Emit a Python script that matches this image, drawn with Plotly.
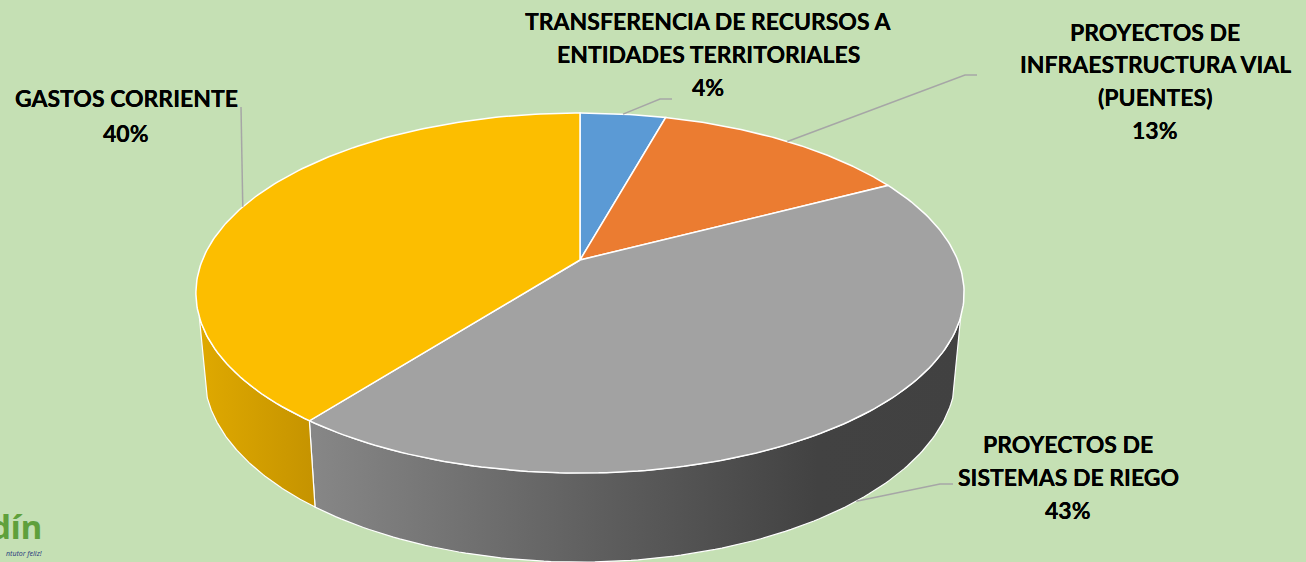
import numpy as np
import plotly.graph_objects as go

# ---- data ----
categories = ["TRANSFERENCIA DE RECURSOS A ENTIDADES TERRITORIALES",
              "PROYECTOS DE INFRAESTRUCTURA VIAL (PUENTES)",
              "PROYECTOS DE SISTEMAS DE RIEGO",
              "GASTOS CORRIENTE"]
values = [4.3, 13.0, 43.2, 39.5]
percent_labels = ["4%", "13%", "43%", "40%"]
label_lines = [["TRANSFERENCIA DE RECURSOS A", "ENTIDADES TERRITORIALES", "4%"],
               ["PROYECTOS DE", "INFRAESTRUCTURA VIAL", "(PUENTES)", "13%"],
               ["PROYECTOS DE", "SISTEMAS DE RIEGO", "43%"],
               ["GASTOS CORRIENTE", "40%"]]
top_colors = ["#5B9AD5", "#EB7C31", "#A2A2A2", "#FCBE00"]

# ---- styling / projection ----
BG = "#C5E0B4"
WIDTH, HEIGHT = 1306, 562
CX, TOP_CY, BOT_CY = 580, 260, 338
TOP_A, BOT_A, TOP_B, BOT_B, PERSP = 377.6, 369.7, 174, 183, 0.1833
WALL_START, WALL_END = 108, 252
FONT = "Lato, Carlito, Calibri, sans-serif"
FONT_SIZE = 23


def project(deg, a, b, cy):
    t = np.radians(deg)
    w = 1 + PERSP * np.cos(t)
    return CX + a * np.sin(t) / w, cy - b * np.cos(t) / w


def top(deg):
    return project(deg, TOP_A, TOP_B, TOP_CY)


def bottom(deg):
    return project(deg, BOT_A, BOT_B, BOT_CY)


edges = np.concatenate([[0], np.cumsum(values)]) / sum(values) * 360
mids = (edges[:-1] + edges[1:]) / 2

fig = go.Figure()

# side walls (only the front of the cake is visible)
wall_styles = {
    2: [[0, "#878787"], [0.45, "#5E5E5E"], [0.78, "#424242"], [1, "#414141"]],
    3: [[0, "#DFA900"], [1, "#C59300"]],
}
for i, scale in wall_styles.items():
    a0 = max(edges[i], WALL_START)
    a1 = min(edges[i + 1], WALL_END)
    rng = np.linspace(a0, a1, 120)
    tx, ty = top(rng)
    bx, by = bottom(rng[::-1])
    fig.add_trace(go.Scatter(
        x=np.concatenate([tx, bx, tx[:1]]), y=np.concatenate([ty, by, ty[:1]]),
        mode="lines", line=dict(color="white", width=1.2), fill="toself",
        fillgradient=dict(type="horizontal", colorscale=scale),
        hoverinfo="skip", showlegend=False))

# top faces
for i, cat in enumerate(categories):
    rng = np.linspace(edges[i], edges[i + 1], 160)
    ax, ay = top(rng)
    fig.add_trace(go.Scatter(
        x=np.concatenate([[CX], ax, [CX]]), y=np.concatenate([[TOP_CY], ay, [TOP_CY]]),
        mode="lines", line=dict(color="white", width=1.5), fill="toself",
        fillcolor=top_colors[i], name=cat, hoverinfo="name", showlegend=False))

# leader lines: from the slice's rim to the label
leader_tails = [[(660, 99), (672, 99)], [(965, 75), (977, 75)],
                [(940, 484), (953, 484)], [(241, 107)]]
rim_fns = [top, top, bottom, top]
for i, tail in enumerate(leader_tails):
    sx, sy = rim_fns[i](mids[i])
    xs = [sx] + [p[0] for p in tail]
    ys = [sy] + [p[1] for p in tail]
    fig.add_trace(go.Scatter(x=xs, y=ys, mode="lines",
                             line=dict(color="#A6A6A6", width=1.5),
                             hoverinfo="skip", showlegend=False))

# labels
label_centres = [708, 1155, 1068, 126]
label_rows = [[21, 54, 87], [32, 64, 97, 130], [444, 477, 510], [98, 133]]
for lines, cx, rows in zip(label_lines, label_centres, label_rows):
    for line, y in zip(lines, rows):
        fig.add_annotation(x=cx, y=y, text=f"<b>{line}</b>", showarrow=False,
                           xanchor="center", yanchor="middle",
                           font=dict(family=FONT, size=FONT_SIZE, color="black",
                                     shadow="0 0 0.6px black"))

# logo, bottom-left (the original shows only the end of the word)
fig.add_annotation(x=44, y=526, text="<b>dín</b>", showarrow=False, xanchor="right",
                   yanchor="middle", font=dict(family="Noto Sans", size=33, color="#5FA03C"))
fig.add_annotation(x=44, y=553, text="<i>ntutor feliz!</i>", showarrow=False, xanchor="right",
                   yanchor="middle", font=dict(family="Noto Sans", size=7, color="#2F3F7F"))

fig.update_layout(
    width=WIDTH, height=HEIGHT, margin=dict(l=0, r=0, t=0, b=0),
    paper_bgcolor=BG, plot_bgcolor=BG, showlegend=False,
    xaxis=dict(range=[0, WIDTH], visible=False, fixedrange=True),
    yaxis=dict(range=[HEIGHT, 0], visible=False, fixedrange=True),
)
fig.write_html("out.html", config={"displayModeBar": False},
               post_script="document.body.style.margin='0';document.body.style.overflow='hidden';")
